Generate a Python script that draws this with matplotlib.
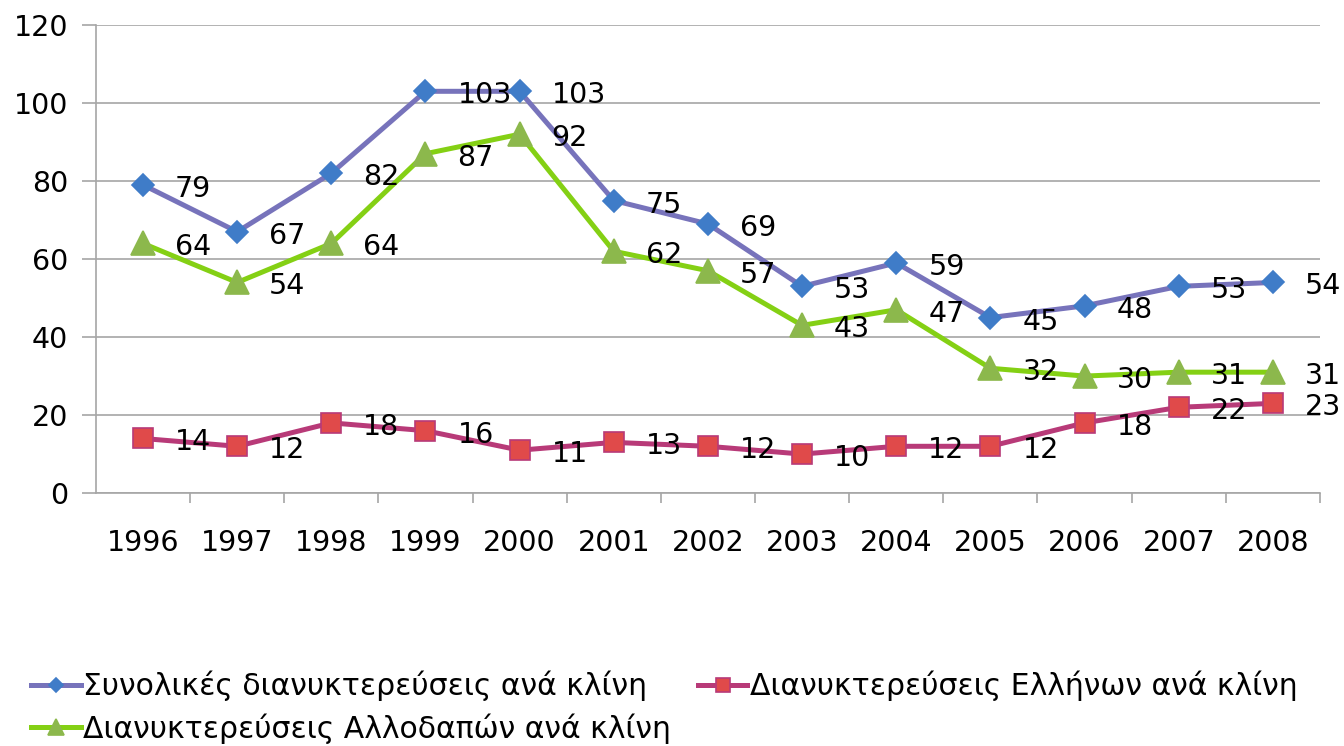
import matplotlib
matplotlib.use("Agg")
import matplotlib.pyplot as plt
from matplotlib.ticker import FixedLocator

# data
years = ["1996", "1997", "1998", "1999", "2000", "2001", "2002",
         "2003", "2004", "2005", "2006", "2007", "2008"]
total = [79, 67, 82, 103, 103, 75, 69, 53, 59, 45, 48, 53, 54]
greek = [14, 12, 18, 16, 11, 13, 12, 10, 12, 12, 18, 22, 23]
foreign = [64, 54, 64, 87, 92, 62, 57, 43, 47, 32, 30, 31, 31]

label_total = "Συνολικές διανυκτερεύσεις ανά κλίνη"
label_greek = "Διανυκτερεύσεις Ελλήνων ανά κλίνη"
label_foreign = "Διανυκτερεύσεις Αλλοδαπών ανά κλίνη"

plt.rcParams['font.family'] = ['DejaVu Sans']

fig = plt.figure(figsize=(13.44, 7.46), dpi=100)
ax = fig.add_axes([0.0714, 0.339, 0.9107, 0.6275])

x = list(range(len(years)))

# Series styles: (values, label, line colour, marker, marker face, marker edge, size)
series = [
    (total, label_total, "#7773bb", "D", "#3f7cc8", "#3f7cc8", 11),
    (greek, label_greek, "#b83a78", "s", "#e04a4a", "#b83a78", 15),
    (foreign, label_foreign, "#84d014", "^", "#8cb84c", "#8cb84c", 17),
]

handles = {}
for vals, lab, lc, mk, mfc, mec, ms in series:
    h, = ax.plot(x, vals, color=lc, lw=3.6, marker=mk, markersize=ms,
                 markerfacecolor=mfc, markeredgecolor=mec, markeredgewidth=1.2,
                 label=lab, zorder=3)
    handles[lab] = h
    for xi, v in zip(x, vals):
        ax.annotate(str(v), (xi, v), xytext=(32, -4), textcoords="offset pixels",
                    ha="left", va="center", fontsize=20.5, color="black", zorder=4)

ax.set_xlim(-0.5, len(years) - 0.5)
ax.set_ylim(0, 120)
ax.set_yticks(range(0, 121, 20))
ax.yaxis.grid(True, color="#a6a6a6", lw=1.2)
ax.set_axisbelow(True)

ax.set_xticks(x)
ax.set_xticklabels(years)
ax.xaxis.set_minor_locator(FixedLocator([i + 0.5 for i in range(len(years))]))
ax.tick_params(axis="x", which="major", length=0, pad=26, labelsize=20.5)
ax.tick_params(axis="x", which="minor", length=7, width=1.2, color="#a6a6a6")
ax.tick_params(axis="y", length=10, width=1.2, color="#a6a6a6", pad=10, labelsize=20.5)

for side in ["top", "right"]:
    ax.spines[side].set_visible(False)
for side in ["left", "bottom"]:
    ax.spines[side].set_color("#a6a6a6")
    ax.spines[side].set_linewidth(1.2)

order = [label_total, label_foreign, label_greek]
fig.legend([handles[k] for k in order], order, ncol=2, loc="upper left",
           bbox_to_anchor=(0.003, 0.137), frameon=False, fontsize=21.5,
           handlelength=1.67, handletextpad=0.07, columnspacing=0.9,
           labelspacing=0.4, markerscale=0.65)

fig.savefig("out.png", dpi=100)
